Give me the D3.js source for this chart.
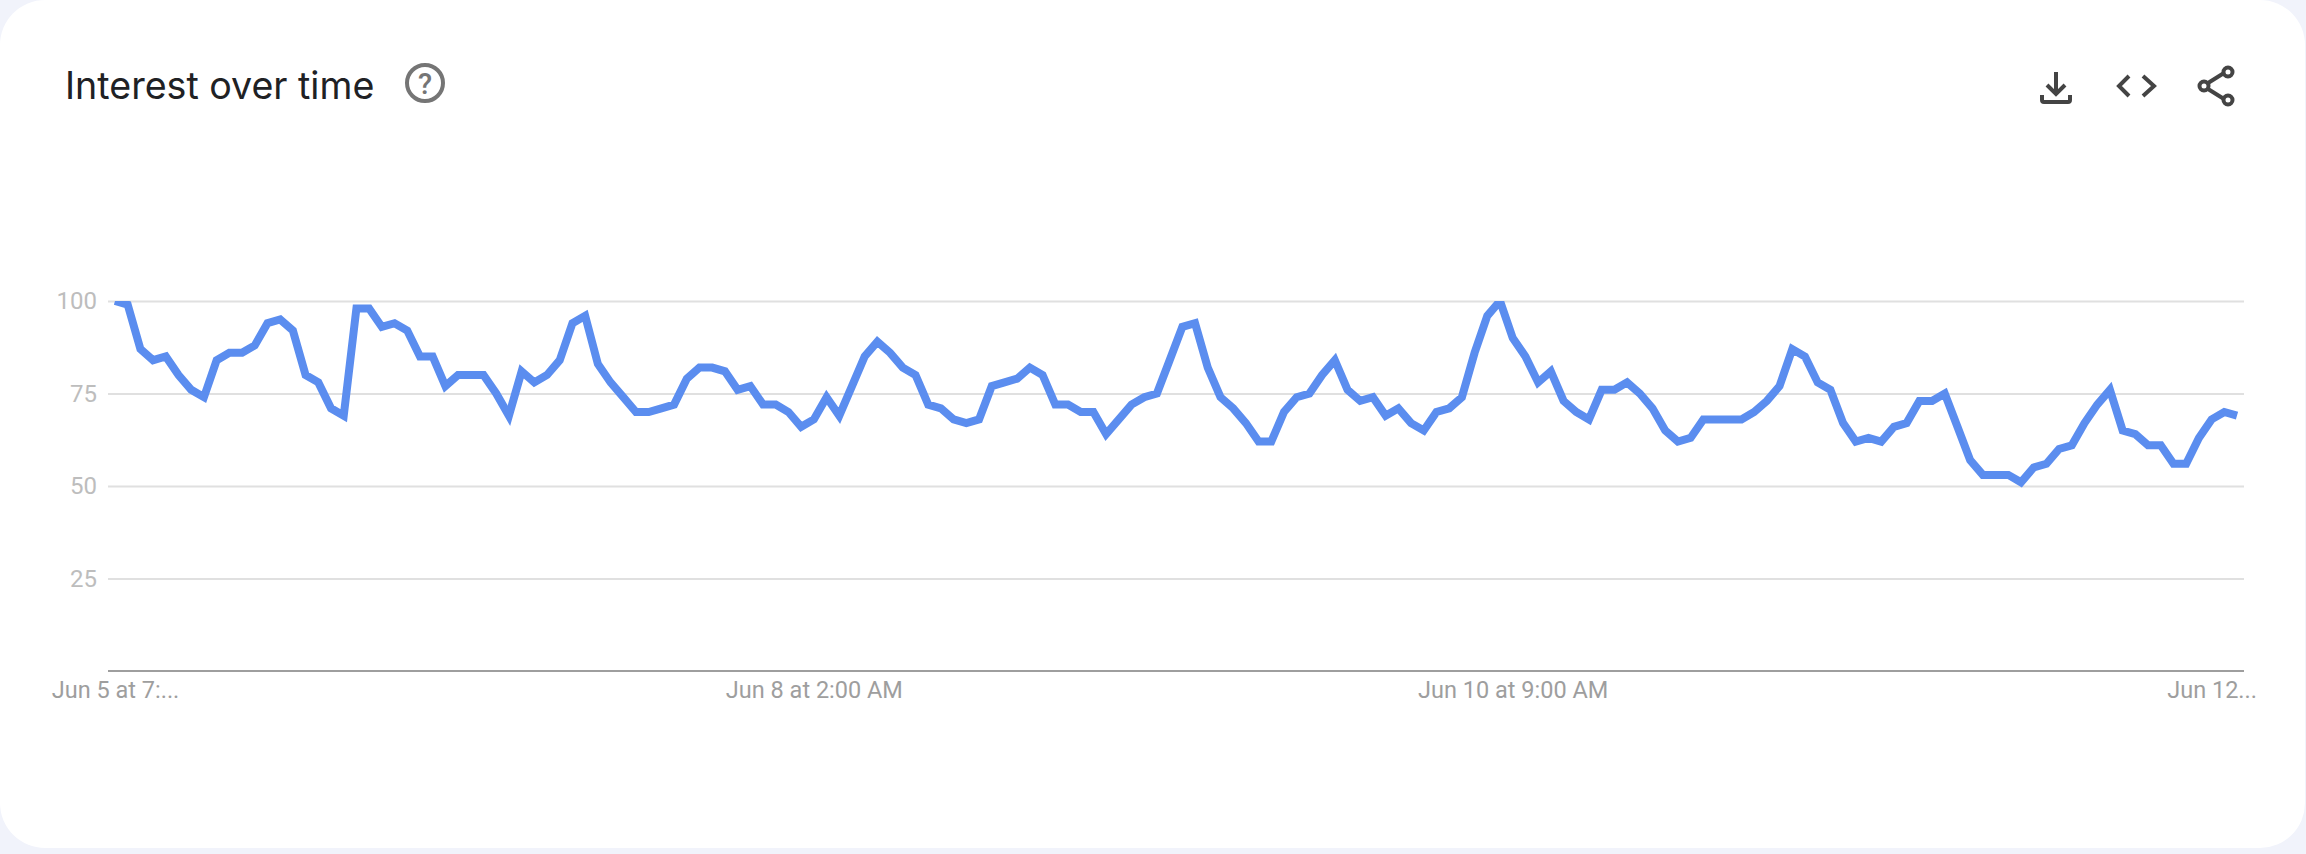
<!DOCTYPE html>
<html><head><meta charset="utf-8">
<style>html,body{margin:0;padding:0;background:#f1f3fb;overflow:hidden}svg{display:block}</style>
<script src="https://cdn.jsdelivr.net/npm/d3@7/dist/d3.min.js"></script></head><body>
<svg id="c" width="2306" height="854"></svg>
<script>
const titleText = "Interest over time";
const yTicks = [25, 50, 75, 100];
const xTickIndex = [0, 55, 110, 165];
const xTickLabels = ["Jun 5 at 7:...", "Jun 8 at 2:00 AM", "Jun 10 at 9:00 AM", "Jun 12..."];
const interest = [
100,99,87,84,85,80,76,74,84,86,86,88,94,95,92,80,78,71,69,98,98,93,94,92,85,85,77,80,80,80,75,69,81,78,80,84,94,96,
83,78,74,70,70,71,72,79,82,82,81,76,77,72,72,70,66,68,74,69,77,85,89,86,82,80,72,71,68,67,68,77,78,79,82,80,72,72,70,70,64,68,72,74,75,
84,93,94,82,74,71,67,62,62,70,74,75,80,84,76,73,74,69,71,67,65,70,71,74,86,96,100,90,85,78,81,73,70,68,76,76,78,75,71,65,62,63,68,68,68,68,70,
73,77,87,85,78,76,67,62,63,62,66,67,73,73,75,66,57,53,53,53,51,55,56,60,61,67,72,76,65,64,61,61,56,56,63,68,70,69];

const svg = d3.select("#c");
const x = d3.scaleLinear().domain([0, interest.length - 1]).range([115, 2237]);
const y = d3.scaleLinear().domain([0, 100]).range([671, 301]);
const left = 108, right = 2244;

svg.append("rect").attr("x", 0).attr("y", 0).attr("width", 2305).attr("height", 848)
  .attr("rx", 45).attr("ry", 45).attr("fill", "#fff");

svg.append("text").attr("x", 65).attr("y", 99).attr("font-family", "Inter, Roboto, sans-serif")
  .attr("font-size", 37.6).attr("fill", "#202124").text(titleText);

// Help icon
const help = svg.append("g").attr("transform", "translate(425,83)");
help.append("circle").attr("r", 18).attr("fill", "none").attr("stroke", "#757575").attr("stroke-width", 4);
help.append("text").attr("text-anchor", "middle").attr("y", 10.5).attr("font-family", "Roboto, sans-serif")
  .attr("font-weight", 500).attr("font-size", 29).attr("fill", "#757575").text("?");

// Toolbar icons
const ic = svg.append("g").attr("fill", "none").attr("stroke", "#444").attr("stroke-width", 4);
ic.append("path").attr("d", "M2056 72V94M2047 85L2056 94L2065 85");
ic.append("path").attr("d", "M2042 95V100Q2042 102 2044 102H2068Q2070 102 2070 100V95");
ic.append("path").attr("d", "M2129 76L2119 86L2129 96M2143 76L2154 86L2143 96");
ic.append("path").attr("d", "M2208 83L2224 73M2208 89L2224 99");
[[2204, 86], [2228, 72], [2228, 100]].forEach(p =>
  ic.append("circle").attr("cx", p[0]).attr("cy", p[1]).attr("r", 4.5));

// Y axis with gridlines
const yAxis = svg.append("g").attr("transform", `translate(${left},0)`)
  .call(d3.axisLeft(y).tickValues(yTicks).tickSize(-(right - left)).tickPadding(11));
yAxis.select(".domain").remove();
yAxis.selectAll("line").attr("stroke", "#e0e0e0").attr("stroke-width", 2);
yAxis.selectAll("text").attr("font-family", "Roboto, sans-serif").attr("font-size", 24).attr("fill", "#bdbdbd");

// X axis
const xAxis = svg.append("g").attr("transform", `translate(0,${y(0)})`)
  .call(d3.axisBottom(x).tickValues(xTickIndex).tickSize(0).tickPadding(10)
    .tickFormat((d, i) => xTickLabels[i]));
xAxis.select(".domain").attr("d", `M${left},0H${right}`).attr("stroke", "#9e9e9e").attr("stroke-width", 2);
xAxis.selectAll("text").attr("font-family", "Roboto, sans-serif").attr("font-size", 23.5).attr("fill", "#9e9e9e");

// Series line, clipped at the top of the plot area
svg.append("clipPath").attr("id", "plot").append("rect")
  .attr("x", left).attr("y", y(100)).attr("width", right - left).attr("height", y(0) - y(100));
svg.append("path").datum(interest)
  .attr("clip-path", "url(#plot)")
  .attr("d", d3.line().x((d, i) => x(i)).y(d => y(d)))
  .attr("fill", "none").attr("stroke", "#5b8def").attr("stroke-width", 8).attr("stroke-linejoin", "miter");
</script></body></html>
